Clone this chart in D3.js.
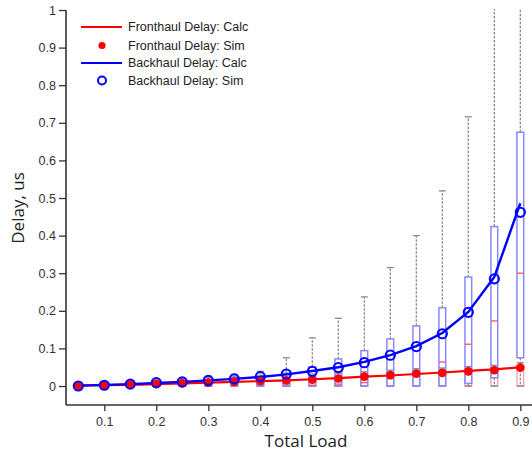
<!DOCTYPE html>
<html>
<head>
<meta charset="utf-8">
<script src="https://d3js.org/d3.v7.min.js"></script>
<style>
  html, body { margin: 0; padding: 0; background: #fff; }
  svg { display: block; }
</style>
</head>
<body>
<svg id="chart" width="532" height="452"></svg>
<script>
// Offered load on the x axis
const loads = [0.05, 0.1, 0.15, 0.2, 0.25, 0.3, 0.35, 0.4, 0.45, 0.5, 0.55, 0.6, 0.65, 0.7, 0.75, 0.8, 0.85, 0.9];

// Mean delays (us): analytical model and simulation
const frontCalc = [0.001, 0.002, 0.003, 0.005, 0.007, 0.009, 0.011, 0.013, 0.015, 0.018, 0.021, 0.025, 0.028, 0.032, 0.036, 0.040, 0.044, 0.050];
const frontSim  = [0.001, 0.002, 0.004, 0.005, 0.007, 0.009, 0.011, 0.013, 0.015, 0.017, 0.020, 0.025, 0.029, 0.033, 0.035, 0.039, 0.042, 0.049];
const backCalc  = [0.001, 0.003, 0.005, 0.008, 0.011, 0.015, 0.019, 0.024, 0.031, 0.040, 0.050, 0.064, 0.082, 0.106, 0.141, 0.197, 0.290, 0.486];
const backSim   = [0.000, 0.002, 0.005, 0.009, 0.011, 0.015, 0.019, 0.025, 0.032, 0.039, 0.049, 0.062, 0.082, 0.105, 0.139, 0.196, 0.285, 0.462];

// Backhaul delay distribution per load: whisker low, Q1, median, Q3, whisker high
const backLow  = [0, 0, 0, 0, 0, 0, 0, 0, 0, 0, 0, 0, 0, 0, 0, 0, 0, 0];
const backQ1   = [0, 0, 0, 0, 0, 0, 0, 0, 0, 0, 0, 0, 0, 0, 0, 0.007, 0.022, 0.075];
const backMed  = [0, 0, 0.001, 0.002, 0.003, 0.004, 0.005, 0.006, 0.006, 0.002, 0.005, 0.009, 0.020, 0.030, 0.064, 0.111, 0.173, 0.300];
const backQ3   = [0.003, 0.005, 0.008, 0.011, 0.014, 0.018, 0.022, 0.027, 0.034, 0.051, 0.072, 0.094, 0.125, 0.160, 0.208, 0.290, 0.424, 0.675];
const backHigh = [0.005, 0.008, 0.012, 0.016, 0.021, 0.026, 0.031, 0.039, 0.075, 0.128, 0.180, 0.237, 0.315, 0.400, 0.519, 0.716, 1.250, 1.600];

// Fronthaul delay distribution per load
const frontLow  = [0, 0, 0, 0, 0, 0, 0, 0, 0, 0, 0, 0, 0, 0, 0, 0, 0, 0];
const frontQ1   = [0, 0, 0, 0, 0, 0, 0, 0, 0, 0, 0, 0, 0, 0, 0, 0, 0, 0];
const frontMed  = [0.001, 0.001, 0.002, 0.003, 0.004, 0.005, 0.006, 0.008, 0.010, 0.014, 0.018, 0.023, 0.027, 0.031, 0.034, 0.038, 0.041, 0.048];
const frontQ3   = [0.003, 0.005, 0.008, 0.011, 0.014, 0.017, 0.019, 0.021, 0.022, 0.022, 0.025, 0.030, 0.034, 0.038, 0.040, 0.044, 0.047, 0.053];
const frontHigh = [0.005, 0.008, 0.011, 0.015, 0.019, 0.023, 0.026, 0.028, 0.030, 0.032, 0.034, 0.038, 0.042, 0.046, 0.048, 0.052, 0.055, 0.062];

const xTicks = [0.1, 0.2, 0.3, 0.4, 0.5, 0.6, 0.7, 0.8, 0.9];
const yTicks = [0, 0.1, 0.2, 0.3, 0.4, 0.5, 0.6, 0.7, 0.8, 0.9, 1];

const legendLabels = ["Fronthaul Delay: Calc", "Fronthaul Delay: Sim", "Backhaul Delay: Calc", "Backhaul Delay: Sim"];

const RED = "#ff0000";
const BLUE = "#0000ff";

const svg = d3.select("#chart");

const plotLeft = 66, plotRight = 532, plotTop = 10, plotBottom = 405;

const x = d3.scaleLinear().domain([0.02635, 0.92245]).range([plotLeft, plotRight]);
const y = d3.scaleLinear().domain([-0.0505, 1]).range([plotBottom, plotTop]);

svg.append("defs").append("clipPath").attr("id", "plotClip")
  .append("rect")
  .attr("x", plotLeft).attr("y", plotTop - 1)
  .attr("width", plotRight - plotLeft).attr("height", plotBottom - plotTop + 1);

const plot = svg.append("g").attr("clip-path", "url(#plotClip)");

const boxW = x(0.113) - x(0.1);

function drawBoxes(low, q1, med, q3, high, boxColor, medColor) {
  const g = plot.append("g");
  const rows = loads.map((l, i) => ({ l, low: low[i], q1: q1[i], med: med[i], q3: q3[i], high: high[i] }));
  const wStyle = sel => sel.attr("stroke", "#8a8a8a").attr("stroke-width", 1.3).attr("stroke-dasharray", "2.5,1.5");
  // whiskers
  g.selectAll(".wh-up").data(rows).join("line")
    .attr("x1", d => x(d.l)).attr("x2", d => x(d.l))
    .attr("y1", d => y(d.q3)).attr("y2", d => y(d.high))
    .call(wStyle);
  g.selectAll(".wh-dn").data(rows).join("line")
    .attr("x1", d => x(d.l)).attr("x2", d => x(d.l))
    .attr("y1", d => y(d.q1)).attr("y2", d => y(d.low))
    .call(wStyle);
  // caps
  g.selectAll(".cap-up").data(rows).join("line")
    .attr("x1", d => x(d.l) - 3.5).attr("x2", d => x(d.l) + 3.5)
    .attr("y1", d => y(d.high)).attr("y2", d => y(d.high))
    .attr("stroke", "#8a8a8a").attr("stroke-width", 1.3);
  g.selectAll(".cap-dn").data(rows).join("line")
    .attr("x1", d => x(d.l) - 3.5).attr("x2", d => x(d.l) + 3.5)
    .attr("y1", d => y(d.low)).attr("y2", d => y(d.low))
    .attr("stroke", "#8a8a8a").attr("stroke-width", 1.3);
  // boxes
  g.selectAll("rect").data(rows).join("rect")
    .attr("x", d => x(d.l) - boxW / 2).attr("width", boxW)
    .attr("y", d => y(d.q3)).attr("height", d => Math.max(0.5, y(d.q1) - y(d.q3)))
    .attr("fill", "none").attr("stroke", boxColor).attr("stroke-width", 1.5);
  // medians
  g.selectAll(".med").data(rows).join("line")
    .attr("x1", d => x(d.l) - boxW / 2).attr("x2", d => x(d.l) + boxW / 2)
    .attr("y1", d => y(d.med)).attr("y2", d => y(d.med))
    .attr("stroke", medColor).attr("stroke-width", 1.4);
}

drawBoxes(frontLow, frontQ1, frontMed, frontQ3, frontHigh, "#ffaaaa", "#ff7a7a");
drawBoxes(backLow, backQ1, backMed, backQ3, backHigh, "#8888ff", "#ff6060");

const line = d3.line().x((d, i) => x(loads[i])).y(d => y(d));

// Calc curves
plot.append("path").datum(frontCalc).attr("d", line)
  .attr("fill", "none").attr("stroke", RED).attr("stroke-width", 2.2);
plot.append("path").datum(backCalc).attr("d", line)
  .attr("fill", "none").attr("stroke", BLUE).attr("stroke-width", 2.4);

// Simulation points
plot.append("g").selectAll("circle").data(frontSim).join("circle")
  .attr("cx", (d, i) => x(loads[i])).attr("cy", d => y(d)).attr("r", 4.3)
  .attr("fill", RED);
plot.append("g").selectAll("circle").data(backSim).join("circle")
  .attr("cx", (d, i) => x(loads[i])).attr("cy", d => y(d)).attr("r", 4.6)
  .attr("fill", "none").attr("stroke", BLUE).attr("stroke-width", 2);

// Axes
const tickFont = "'Liberation Sans', Arial, sans-serif";

const xAxis = svg.append("g").attr("transform", `translate(0,${plotBottom})`)
  .call(d3.axisBottom(x).tickValues(xTicks).tickSizeInner(6).tickSizeOuter(0).tickPadding(6)
    .tickFormat(d3.format("~g")));
const yAxis = svg.append("g").attr("transform", `translate(${plotLeft},0)`)
  .call(d3.axisLeft(y).tickValues(yTicks).tickSizeInner(7).tickSizeOuter(0).tickPadding(3)
    .tickFormat(d3.format("~g")));

[xAxis, yAxis].forEach(a => {
  a.select(".domain").attr("stroke", "#333").attr("stroke-width", 1.6);
  a.selectAll(".tick line").attr("stroke", "#333").attr("stroke-width", 1.3);
  a.selectAll(".tick text").attr("fill", "#333").style("font-family", tickFont).style("font-size", "12.5px");
});
// axis lines span the full plot area
yAxis.select(".domain").attr("d", `M0,${plotTop}V${plotBottom}`);
xAxis.select(".domain").attr("d", `M${plotLeft},0H${plotRight}`);

// Axis titles
const titleFont = "'Open Sans', 'Noto Sans', sans-serif";
svg.append("text")
  .attr("transform", "translate(24,208) rotate(-90)")
  .attr("text-anchor", "middle")
  .style("font-family", titleFont).style("font-size", "17px").attr("fill", "#222")
  .text("Delay, us");
svg.append("text")
  .attr("x", 306).attr("y", 447)
  .attr("text-anchor", "middle")
  .style("font-family", titleFont).style("font-size", "17px").attr("fill", "#222")
  .text("Total Load");

// Legend
const legendRows = [27, 45.5, 63, 80.5];
const lg = svg.append("g");
legendLabels.forEach((label, i) => {
  const cy = legendRows[i];
  if (i === 0 || i === 2) {
    lg.append("line").attr("x1", 81).attr("x2", 122).attr("y1", cy).attr("y2", cy)
      .attr("stroke", i === 0 ? RED : BLUE).attr("stroke-width", 2);
  } else if (i === 1) {
    lg.append("circle").attr("cx", 102).attr("cy", cy).attr("r", 3.6).attr("fill", RED);
  } else {
    lg.append("circle").attr("cx", 102).attr("cy", cy).attr("r", 4).attr("fill", "none")
      .attr("stroke", BLUE).attr("stroke-width", 2);
  }
  lg.append("text").attr("x", 128).attr("y", cy).attr("dy", "0.35em")
    .style("font-family", tickFont).style("font-size", "12.5px").attr("fill", "#222")
    .text(label);
});
</script>
</body>
</html>
